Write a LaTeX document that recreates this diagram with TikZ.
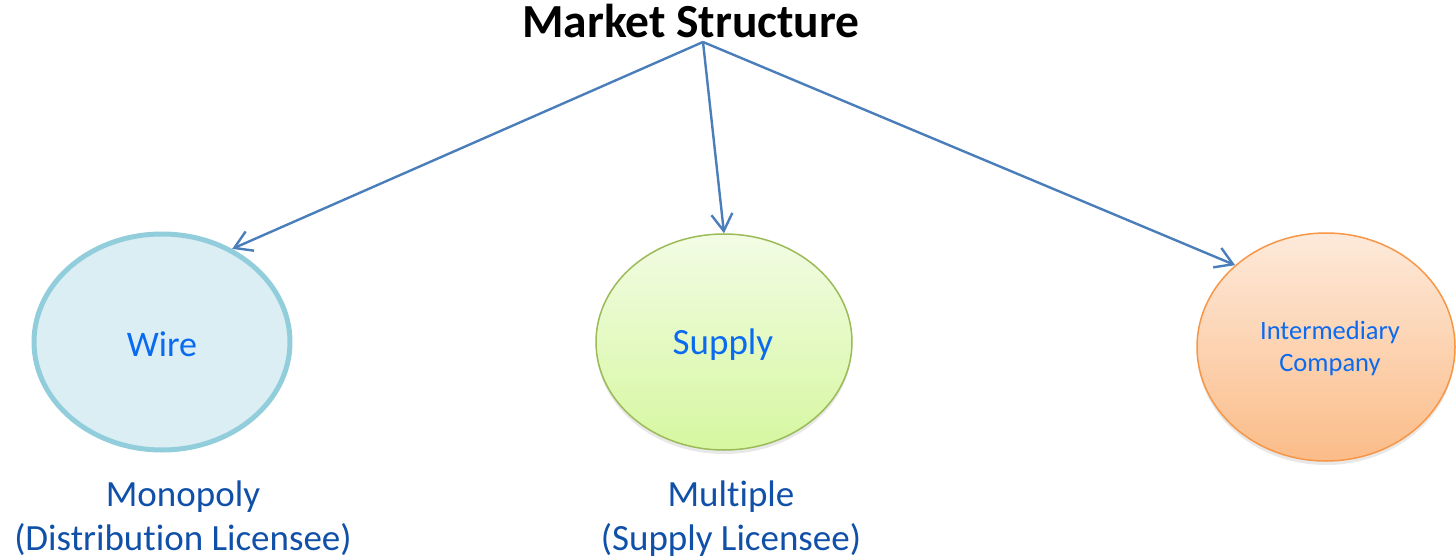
\documentclass[tikz,border=0pt]{standalone}
\usepackage{fontspec}
\setmainfont{Carlito}[Ligatures={NoCommon}]
\usetikzlibrary{arrows.meta,shapes.geometric,shadows}
\definecolor{arrowblue}{HTML}{4A7EBB}
\definecolor{innerblue}{HTML}{0A6AF0}
\definecolor{labelblue}{HTML}{1150A8}
\definecolor{wirefill}{HTML}{DAEEF3}
\definecolor{wireline}{HTML}{92CDDC}
\definecolor{suptop}{HTML}{F2FCE4}
\definecolor{supbot}{HTML}{D6F7A0}
\definecolor{supline}{HTML}{9BBB59}
\definecolor{intop}{HTML}{FDEADB}
\definecolor{inbot}{HTML}{FBBC88}
\definecolor{inline}{HTML}{F79646}
\tikzset{
  blob/.style={ellipse, inner sep=0pt},
  intext/.style={text=innerblue, align=center, inner sep=0pt},
  conn/.style={draw=arrowblue, line width=2.4bp, -{Straight Barb[length=17bp,width=21bp,line width=2.4bp]}},
  lbl/.style={text=labelblue, align=center, font=\fontsize{37bp}{44bp}\selectfont},
  softshadow/.style={drop shadow={opacity=0.18, shadow xshift=0bp, shadow yshift=-4bp}}
}
\begin{document}
\begin{tikzpicture}[x=1bp,y=-1bp]
\useasboundingbox (0,0) rectangle (1456,559);
\node[anchor=base, font=\fontsize{47.5bp}{54bp}\selectfont\bfseries] (title) at (691,38) {Market Structure};
\coordinate (src) at (703,42);
\node[blob, minimum width=256bp, minimum height=216bp, fill=wirefill, draw=wireline, line width=5bp] (wire) at (162,342) {};
\node[intext, font=\fontsize{36bp}{40bp}\selectfont] (wiretxt) at (162,344) {Wire};
\node[blob, minimum width=256bp, minimum height=216bp, top color=suptop, bottom color=supbot, draw=supline, line width=1.5bp, softshadow] (supply) at (724,342) {};
\node[intext, font=\fontsize{37bp}{40bp}\selectfont] (suptxt) at (723,345) {Supply};
\node[blob, minimum width=258bp, minimum height=228bp, top color=intop, bottom color=inbot, draw=inline, line width=1.5bp, softshadow] (inter) at (1326,347) {};
\node[intext, font=\fontsize{26.5bp}{32bp}\selectfont] (intxt) at (1330,348) {Intermediary\\Company};
\node[lbl, anchor=base] (mono) at (183,550) {Monopoly\\(Distribut\kern0pt ion Licensee)};
\node[lbl, anchor=base] (multi) at (731,550) {Multiple\\(Supply Licensee)};
\draw[conn] (src) -- (wire.53);
\draw[conn] (src) -- (supply.north);
\draw[conn] (src) -- (inter.138);
\end{tikzpicture}
\end{document}
